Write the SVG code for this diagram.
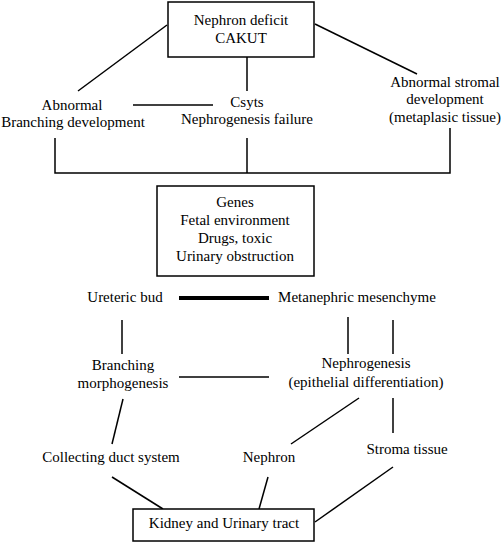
<svg xmlns="http://www.w3.org/2000/svg" width="502" height="543" viewBox="0 0 502 543">
<rect width="502" height="543" fill="#fff"/>
<g id="connectors" stroke="#000" stroke-width="1.5" fill="none">
<line x1="167" y1="25" x2="78" y2="91"/>
<line x1="247" y1="57" x2="247" y2="91"/>
<line x1="315" y1="24" x2="417" y2="74"/>
<line x1="133" y1="105" x2="213" y2="105"/>
<polyline points="55,138 55,173 450,173 450,128"/>
<line x1="247" y1="138" x2="247" y2="173"/>
<line x1="179" y1="298" x2="269" y2="298" stroke-width="4"/>
<line x1="122" y1="320" x2="122" y2="354"/>
<line x1="348" y1="317" x2="348" y2="354"/>
<line x1="393" y1="320" x2="393" y2="354"/>
<line x1="179" y1="377" x2="269" y2="377"/>
<line x1="123" y1="399" x2="112" y2="444"/>
<line x1="359" y1="398" x2="291" y2="444"/>
<line x1="393" y1="398" x2="393" y2="433"/>
<line x1="112" y1="477" x2="163" y2="509"/>
<line x1="268" y1="477" x2="259" y2="509"/>
<line x1="393" y1="467" x2="315" y2="522"/>
</g>
<g id="nephron-deficit">
<rect x="168" y="2" width="146" height="55" fill="#fff" stroke="#000" stroke-width="1.5"/>
<text x="241" y="25" font-family="Liberation Serif" font-size="15" text-anchor="middle">Nephron deficit</text>
<text x="241" y="43" font-family="Liberation Serif" font-size="15" text-anchor="middle">CAKUT</text>
</g>
<g id="abnormal-branching">
<text x="72" y="110" font-family="Liberation Serif" font-size="15" text-anchor="middle">Abnormal</text>
<text x="73" y="127" font-family="Liberation Serif" font-size="15" text-anchor="middle">Branching development</text>
</g>
<g id="cysts">
<text x="247" y="107" font-family="Liberation Serif" font-size="15" text-anchor="middle">Csyts</text>
<text x="247" y="124" font-family="Liberation Serif" font-size="15" text-anchor="middle">Nephrogenesis failure</text>
</g>
<g id="abnormal-stromal">
<text x="445" y="87" font-family="Liberation Serif" font-size="15" text-anchor="middle">Abnormal stromal</text>
<text x="445" y="104" font-family="Liberation Serif" font-size="15" text-anchor="middle">development</text>
<text x="445" y="122" font-family="Liberation Serif" font-size="15" text-anchor="middle">(metaplasic tissue)</text>
</g>
<g id="causes">
<rect x="157" y="186" width="157" height="90" fill="#fff" stroke="#000" stroke-width="1.5"/>
<text x="235" y="207" font-family="Liberation Serif" font-size="15" text-anchor="middle">Genes</text>
<text x="235" y="225" font-family="Liberation Serif" font-size="15" text-anchor="middle">Fetal environment</text>
<text x="235" y="243" font-family="Liberation Serif" font-size="15" text-anchor="middle">Drugs, toxic</text>
<text x="235" y="261" font-family="Liberation Serif" font-size="15" text-anchor="middle">Urinary obstruction</text>
</g>
<g id="ureteric-bud"><text x="125" y="302" font-family="Liberation Serif" font-size="15" text-anchor="middle">Ureteric bud</text></g>
<g id="metanephric-mesenchyme"><text x="357" y="302" font-family="Liberation Serif" font-size="15" text-anchor="middle">Metanephric mesenchyme</text></g>
<g id="branching-morphogenesis">
<text x="123" y="370" font-family="Liberation Serif" font-size="15" text-anchor="middle">Branching</text>
<text x="123" y="388" font-family="Liberation Serif" font-size="15" text-anchor="middle">morphogenesis</text>
</g>
<g id="nephrogenesis">
<text x="366" y="368" font-family="Liberation Serif" font-size="15" text-anchor="middle">Nephrogenesis</text>
<text x="366" y="387" font-family="Liberation Serif" font-size="15" text-anchor="middle">(epithelial differentiation)</text>
</g>
<g id="collecting-duct"><text x="111" y="462" font-family="Liberation Serif" font-size="15" text-anchor="middle">Collecting duct system</text></g>
<g id="nephron"><text x="269" y="462" font-family="Liberation Serif" font-size="15" text-anchor="middle">Nephron</text></g>
<g id="stroma"><text x="407" y="454" font-family="Liberation Serif" font-size="15" text-anchor="middle">Stroma tissue</text></g>
<g id="kidney">
<rect x="133" y="509" width="181" height="32" fill="#fff" stroke="#000" stroke-width="1.5"/>
<text x="224" y="528" font-family="Liberation Serif" font-size="15" text-anchor="middle">Kidney and Urinary tract</text>
</g>
</svg>
